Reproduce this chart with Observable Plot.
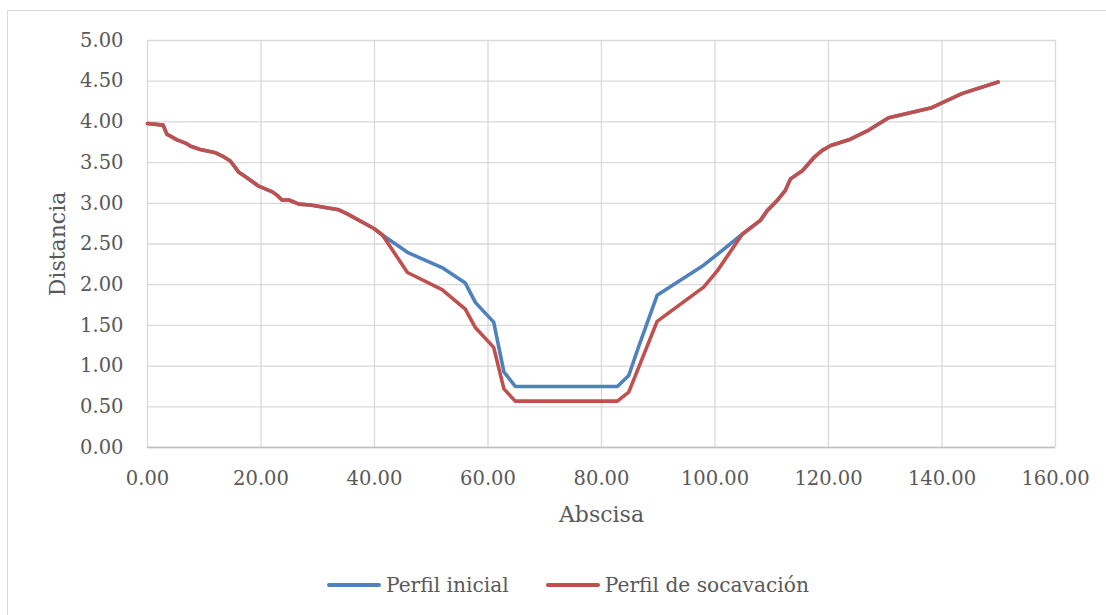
<!DOCTYPE html>
<html>
<head>
<meta charset="utf-8">
<script src="https://cdn.jsdelivr.net/npm/d3@7"></script>
<script src="https://cdn.jsdelivr.net/npm/@observablehq/plot@0.6"></script>
<style>
  html, body { margin: 0; padding: 0; background: #fff; }
  #wrap { position: relative; width: 1106px; height: 615px; overflow: hidden; font-family: "DejaVu Serif", serif; }
  #frame { position: absolute; left: 7px; top: 10px; width: 1110px; height: 620px; border: 1px solid #d9d9d9; box-sizing: border-box; }
  #chart { position: absolute; left: 0; top: 0; }
  #legend { position: absolute; left: 327px; top: 571px; height: 28px; display: flex; align-items: center; color: #595959; font-size: 20.2px; white-space: nowrap; }
  .item { display: flex; align-items: center; }
  .item + .item { margin-left: 37px; }
  .swatch { width: 54px; height: 4px; border-radius: 2px; margin-right: 5px; }
</style>
</head>
<body>
<div id="wrap">
  <div id="frame"></div>
  <div id="chart"></div>
  <div id="legend"></div>
</div>
<script>
const seriesNames = ["Perfil inicial", "Perfil de socavación"];
const seriesColors = ["#4f81bd", "#c0504d"];

const xInicial = [0, 2.75, 3.4, 5.2, 6.7, 7.6, 9.3, 12.0, 13.2, 14.6, 16.1, 17.6, 19.6, 22.0, 22.8, 23.7, 24.9, 26.7, 28.7, 33.7, 35.2, 39.9, 41.4,
  46.0, 51.9, 56.0, 57.8, 61.0, 62.8, 64.8, 82.8, 84.8, 86.6, 89.8, 98.0, 100.9, 104.8,
  108.0, 109.2, 110.9, 112.4, 113.3, 115.4, 117.4, 118.9, 120.4, 123.6, 127.1, 130.6, 138.0, 143.6, 149.9];
const yInicial = [3.98, 3.96, 3.85, 3.78, 3.74, 3.70, 3.66, 3.62, 3.58, 3.52, 3.38, 3.31, 3.21, 3.14, 3.10, 3.04, 3.04, 2.99, 2.98, 2.92, 2.87, 2.69, 2.61,
  2.39, 2.21, 2.02, 1.78, 1.54, 0.93, 0.75, 0.75, 0.885, 1.25, 1.87, 2.24, 2.40, 2.62,
  2.79, 2.91, 3.03, 3.16, 3.30, 3.40, 3.56, 3.65, 3.71, 3.78, 3.90, 4.05, 4.17, 4.35, 4.49];

const xSocavacion = [0, 2.75, 3.4, 5.2, 6.7, 7.6, 9.3, 12.0, 13.2, 14.6, 16.1, 17.6, 19.6, 22.0, 22.8, 23.7, 24.9, 26.7, 28.7, 33.7, 35.2, 39.9, 41.4,
  45.8, 51.9, 56.0, 57.8, 61.0, 62.8, 64.8, 82.8, 84.8, 89.8, 98.0, 100.4, 104.8,
  108.0, 109.2, 110.9, 112.4, 113.3, 115.4, 117.4, 118.9, 120.4, 123.6, 127.1, 130.6, 138.0, 143.6, 149.9];
const ySocavacion = [3.98, 3.96, 3.85, 3.78, 3.74, 3.70, 3.66, 3.62, 3.58, 3.52, 3.38, 3.31, 3.21, 3.14, 3.10, 3.04, 3.04, 2.99, 2.98, 2.92, 2.87, 2.69, 2.61,
  2.15, 1.94, 1.70, 1.47, 1.23, 0.72, 0.57, 0.57, 0.68, 1.55, 1.97, 2.17, 2.62,
  2.79, 2.91, 3.03, 3.16, 3.30, 3.40, 3.56, 3.65, 3.71, 3.78, 3.90, 4.05, 4.17, 4.35, 4.49];

const xTicks = [0, 20, 40, 60, 80, 100, 120, 140, 160];
const yTicks = [0, 0.5, 1, 1.5, 2, 2.5, 3, 3.5, 4, 4.5, 5];
const xTitle = "Abscisa";
const yTitle = "Distancia";

const dataInicial = xInicial.map((x, i) => ({x, y: yInicial[i]}));
const dataSocavacion = xSocavacion.map((x, i) => ({x, y: ySocavacion[i]}));

const chart = Plot.plot({
  width: 1106,
  height: 540,
  marginLeft: 147,
  marginRight: 51,
  marginTop: 40,
  marginBottom: 93,
  style: { fontFamily: "DejaVu Serif", fontSize: "19.5px", color: "#595959", background: "transparent" },
  x: { domain: [0, 160] },
  y: { domain: [0, 5] },
  marks: [
    Plot.ruleX(xTicks, { stroke: "#d9d9d9", strokeWidth: 1.3 }),
    Plot.ruleY(yTicks, { stroke: "#d9d9d9", strokeWidth: 1.3 }),
    Plot.ruleY([0], { stroke: "#bfbfbf", strokeWidth: 1.3 }),
    Plot.axisX({ ticks: xTicks, tickFormat: d => d.toFixed(2), tickSize: 0, tickPadding: 24, label: null, fill: "#595959" }),
    Plot.axisY({ ticks: yTicks, tickFormat: d => d.toFixed(2), tickSize: 0, tickPadding: 24, label: null, fill: "#595959" }),
    Plot.text([xTitle], { frameAnchor: "bottom", dy: 67, textAnchor: "middle", lineAnchor: "middle", fontSize: 22, fill: "#595959" }),
    Plot.text([yTitle], { frameAnchor: "left", dx: -90, rotate: -90, textAnchor: "middle", lineAnchor: "middle", fontSize: 22, fill: "#595959" }),
    Plot.line(dataInicial, { x: "x", y: "y", stroke: seriesColors[0], strokeWidth: 3.6, strokeLinejoin: "round", strokeLinecap: "round" }),
    Plot.line(dataSocavacion, { x: "x", y: "y", stroke: seriesColors[1], strokeWidth: 3.6, strokeLinejoin: "round", strokeLinecap: "round" })
  ]
});
document.getElementById("chart").appendChild(chart);

const legend = document.getElementById("legend");
seriesNames.forEach((name, i) => {
  const item = document.createElement("div");
  item.className = "item";
  const sw = document.createElement("div");
  sw.className = "swatch";
  sw.style.background = seriesColors[i];
  const label = document.createElement("span");
  label.textContent = name;
  item.appendChild(sw);
  item.appendChild(label);
  legend.appendChild(item);
});
</script>
</body>
</html>
